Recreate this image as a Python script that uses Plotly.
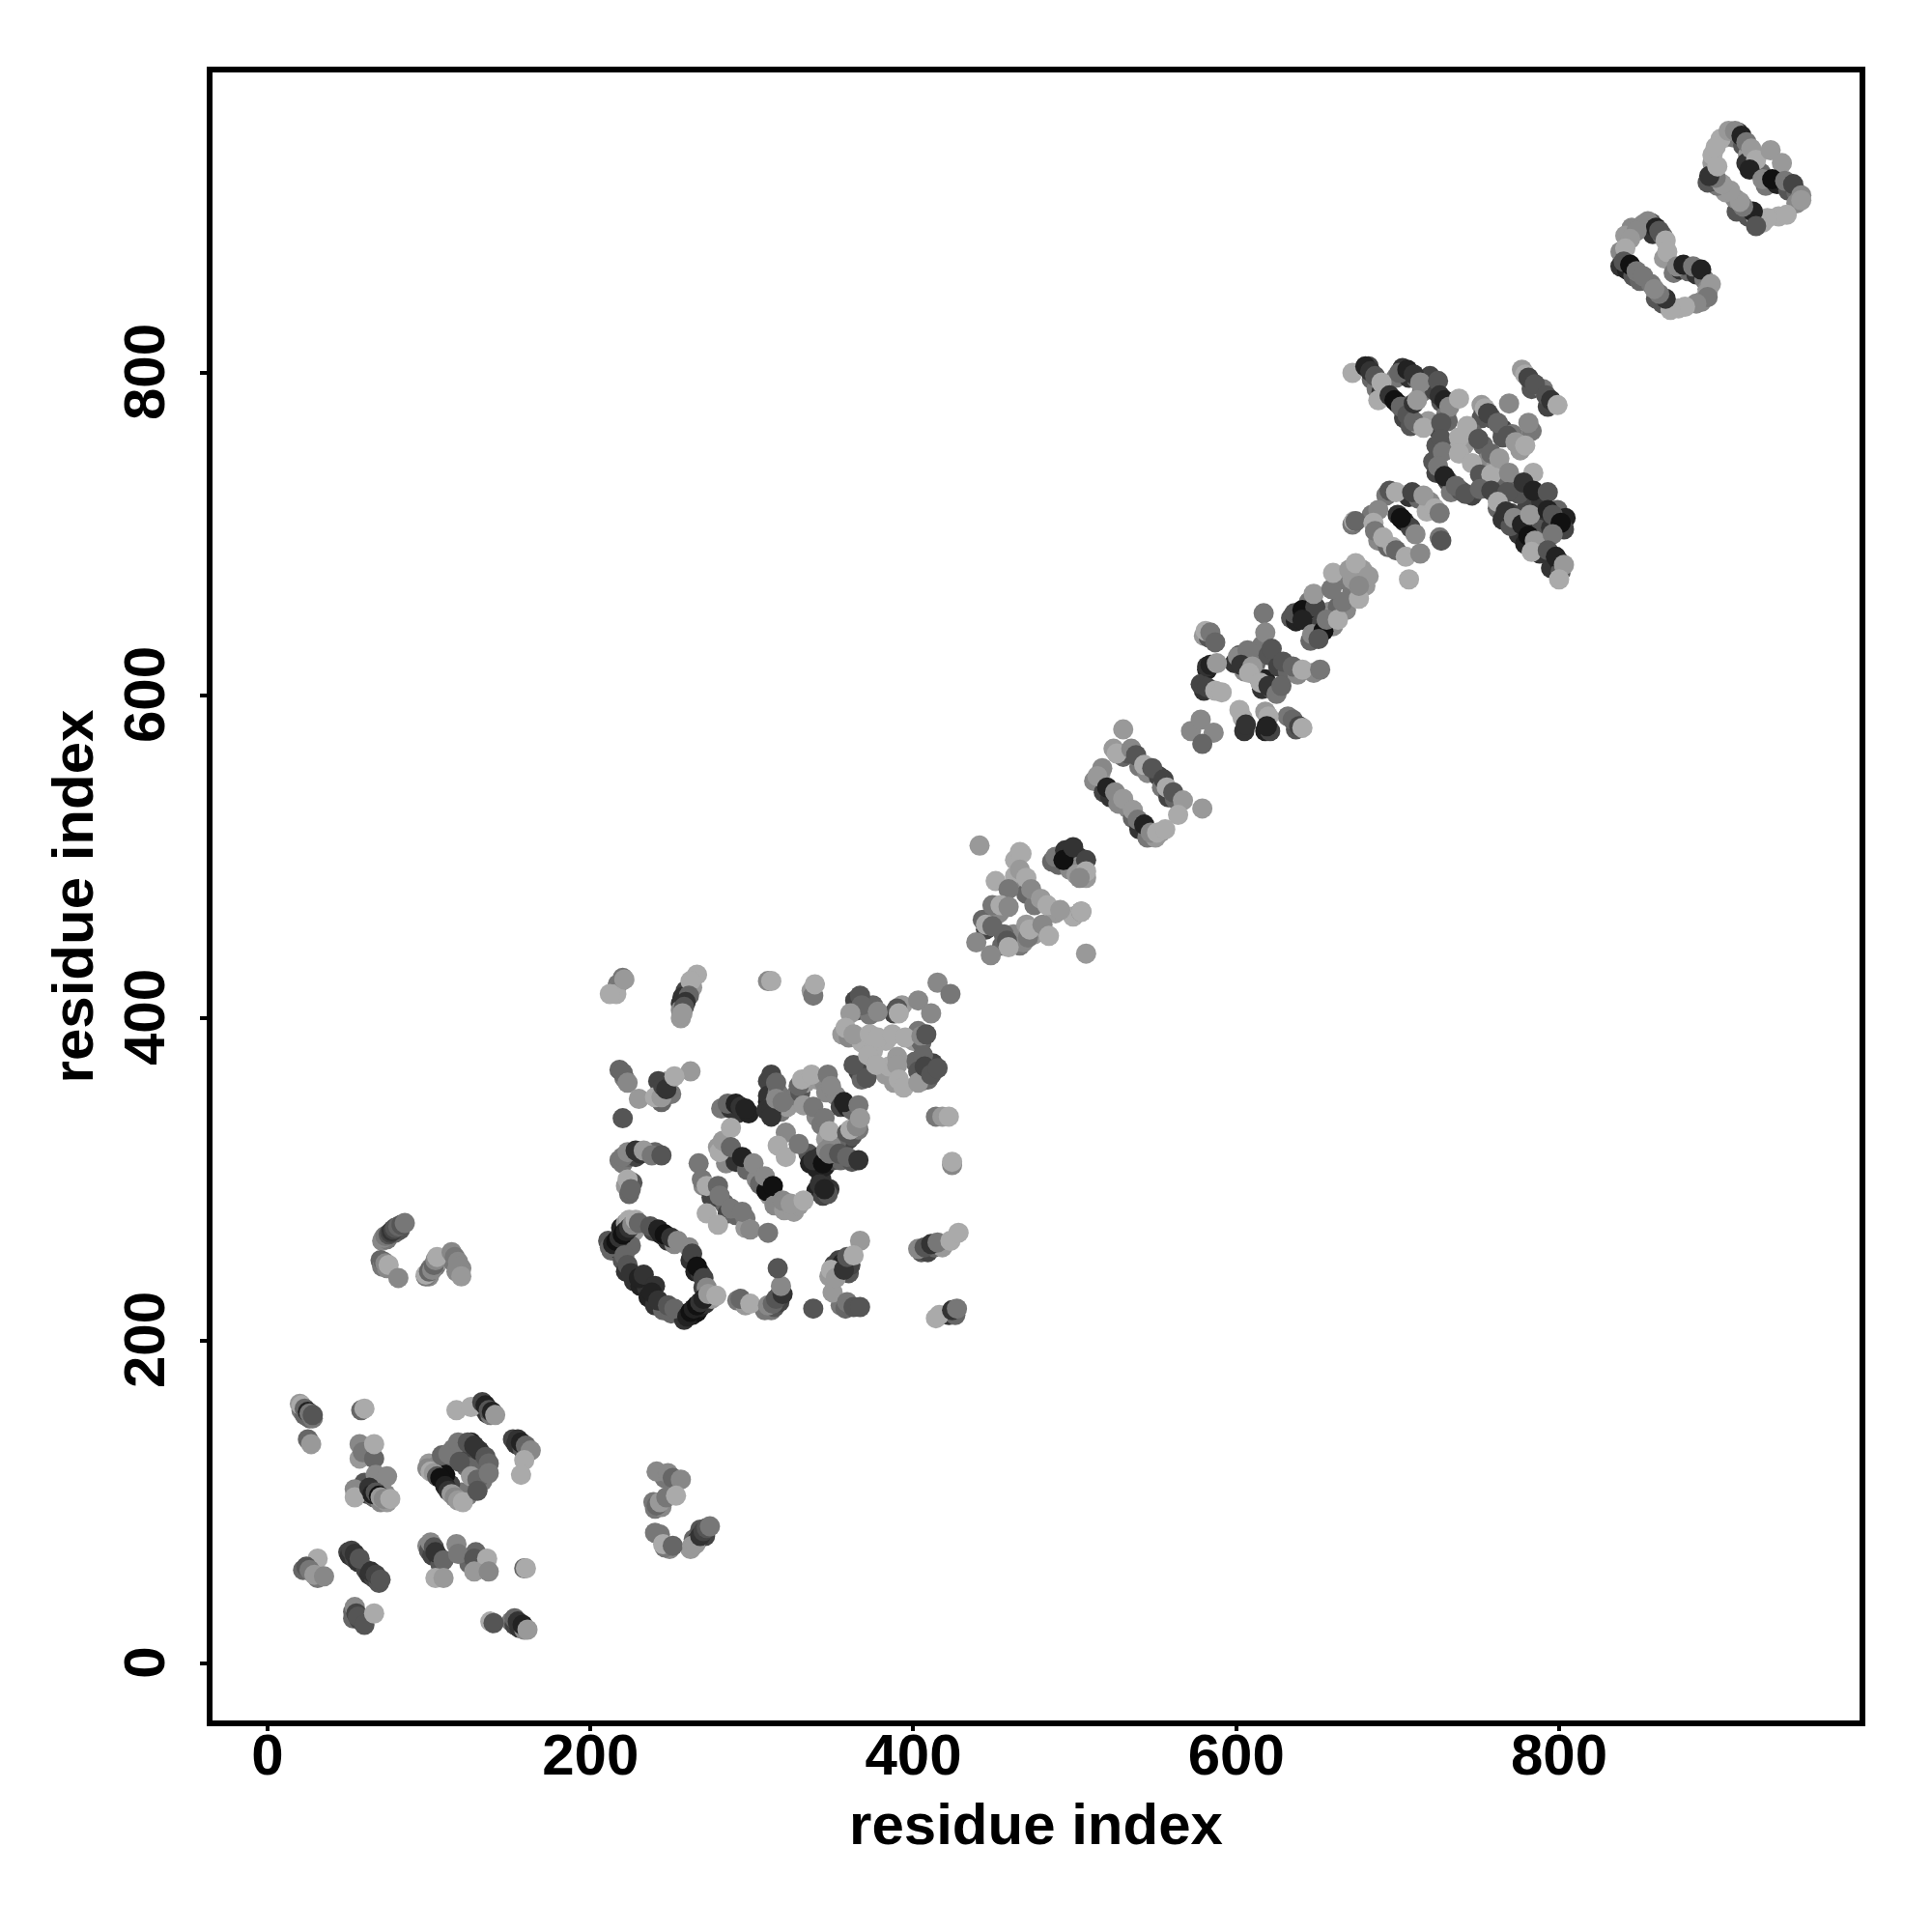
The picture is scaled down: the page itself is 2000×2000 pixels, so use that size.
import plotly.graph_objects as go

# (residue i, residue j, shade 1 = darkest .. 10 = lightest)
lower_a = [(71,262,8),(74,263,7),(79,267,6),(82,269,5),(70,250,6),(71,246,7),(74,245,8),(100,240,8),(101,245,7),(104,246,7),(107,250,9),(113,253,8),(115,249,7),(120,245,8),(117,243,8)]
lower_b = [(100,124,9),(104,122,8),(110,126,6),(115,133,7),(121,133,6),(126,132,4),(132,129,6),(134,122,6),(133,113,7),(128,110,6),(124,104,7),(120,106,7),(113,111,4),(108,118,3),(110,117,1),(126,137,2),(131,132,3),(123,122,6),
(131,160,4),(134,158,5),(136,155,3),(138,154,7),(152,139,4),(154,136,3),(158,133,5),(21,157,7),(23,154,6),(26,152,6),(28,152,7),(60,112,5),(62,105,4),(66,103,6),(70,100,8),(74,100,9),(73,105,8)]
lower_c = [(50,69,4),(51,67,3),(54,65,4),(56,63,3),(61,58,4),(63,55,3),(66,53,4),(69,50,5),(99,73,8),(100,70,5),(102,67,4),(106,66,3),(107,62,5),(125,62,6),(129,69,6),(53,32,6),(53,28,6),(57,27,4),(151,26,7),(153,24,4),(156,22,3),(159,21,8),(27,57,5),(31,53,7),(22,58,6),
(262,71,9),(264,77,6),(266,76,3),(268,83,5),(271,79,4),(243,80,7),(249,71,8),(246,72,7),(246,115,7),(239,100,7),(240,96,7),(244,97,8)]
lower_d = [(211,262,5),(213,256,6),(215,259,1),(217,257,2),(219,259,2),(221,262,1),(223,264,2),(225,266,2),(227,268,9),(219,270,2),(222,273,9),(224,275,10),
(225,259,6),(220,250,5),(222,243,3),(227,237,3),(231,234,2),(235,233,3),(236,227,2),(240,222,3),(245,219,6),(250,217,6),(258,213,3),(260,217,1),(263,216,2),(266,218,1),(268,221,2),(271,223,3),(275,226,9),
(261,258,8),(262,250,3),(265,243,2),(268,242,3),(270,233,4),(239,268,4),(244,266,2),(248,262,3),(252,260,8),
(291,225,7),(296,222,9),(308,219,7),(312,219,7),(314,221,5),(317,224,4),(317,228,3),(348,240,9),(351,247,4),(354,250,4),(356,248,2),(358,245,2),(360,242,5),(361,247,4),(355,222,7),(358,220,6),
(405,255,5),(409,255,4),(413,258,6),(418,258,9),(414,214,10),(422,216,3),(426,216,6)]
lower_e = [(217,421,7),(263,419,9),(259,417,4),(257,413,3),(256,409,3),(256,405,8),(256,400,9),(337,417,9),
(218,368,6),(221,363,7),(243,354,5),(244,348,6),(248,361,8),(242,361,4),(250,353,7),(218,312,7),(220,310,7),(224,314,6),(228,314,4),(231,316,3),(240,317,6),(222,296,9),(226,298,5),(224,291,6),
(270,296,8),(276,292,7),(283,285,6),(285,279,4),(290,278,6),(296,276,7),(296,270,9),(275,289,4),
(281,344,7),(287,344,3),(291,341,3),(298,341,2),(279,320,9),(284,310,8),(290,311,3),(297,306,6),(303,300,8),(305,297,6),(311,290,9),(309,293,1),(314,284,8),(320,281,9),(326,280,9),(329,284,9),(340,293,2),(344,290,4),(343,300,3),(348,294,3),
(310,361,4),(310,348,2),(310,352,3),(313,346,4),(309,343,3),(316,354,7),(318,342,7),(322,345,9),
(327,352,7),(330,354,5),(333,360,9),(340,362,9),(345,360,8),(346,354,8),(352,352,8),(355,345,4),(359,345,2),(362,343,6),(340,339,8),(343,334,7),(346,325,9),(356,326,7),(360,325,4),(362,327,5),(366,331,7),(352,322,6),
(335,316,5),(336,310,2),(340,307,2),(342,314,3),(345,308,2),(350,312,5),(355,312,6),(362,311,5),(349,321,8)]
lower_f = [(364,411,4),(366,405,5),(370,405,5),(373,402,7),(375,408,6),(388,403,4),(393,408,9),(356,390,9),(360,388,8),(368,385,10),(383,386,10),(400,386,9),(403,392,7),(405,385,6),
(401,373,6),(403,367,5),(405,361,7),(409,362,6),(412,372,4),(366,367,4),(368,362,6),(375,380,10),(383,365,9),(388,360,9),(385,370,10),
(502,500,3),(495,495,2),(490,495,6),(486,497,6),(497,492,8),(504,495,8),(507,487,9),(463,498,10),(463,488,10),(470,482,8),(475,475,8),(470,477,6),(475,470,7),(488,465,9),(499,463,10),
(466,445,7),(468,447,8),(475,452,9),(443,461,6),(445,455,4),(455,445,6),(462,452,8),(456,452,6),(453,465,8)]
lower_g = [(524,567,9),(530,562,6),(533,564,5),(540,556,7),(545,552,8),(552,550,4),(554,543,7),(558,537,4),(562,536,6),(516,552,9),(512,547,8),(518,540,4),(522,537,3),(527,533,8),(533,530,8),(536,524,6),(540,517,3),(545,512,7),(550,512,9),(553,515,9),
(580,637,9),(583,636,5),(599,620,3),(602,625,5),(605,615,8),(612,620,6),(613,612,8),(616,604,3),(618,610,2),(622,604,5),(582,616,2),(580,603,3),(578,607,4),(615,625,7),(616,631,7),(620,625,5),(626,618,4),(632,615,6),(638,613,8),(648,614,8),
(604,586,10),(605,578,3),(618,578,2),(621,578,4),(618,590,9),(632,587,7),(637,579,5)]
lower_h = [(634,648,5),(637,646,2),(639,650,1),(644,650,2),(645,658,7),(649,642,7),(651,640,2),(646,634,6),(653,645,4),(658,652,8),(660,643,8),(663,655,6),(668,653,8),(672,665,7),(665,672,7),(672,672,9),(678,678,9),(680,668,9),
(684,712,7),(688,696,8),(694,692,6),(697,692,10),(693,724,7),(707,723,3),(713,722,6),(720,720,8),(726,698,7),(700,712,3),(704,708,2),(708,704,4),(718,714,10),(672,706,7)]
lower_i = [(682,804,4),(684,796,6),(687,790,7),(690,788,3),(693,789,7),(700,781,3),(704,772,4),(708,767,5),(713,768,9),(719,770,9),(699,797,7),(703,803,3),(707,797,3),(712,796,6),(715,788,7),
(720,798,4),(723,789,4),(727,782,5),(730,774,7),(725,765,4),(731,770,6),(724,755,5),(730,754,6),(722,745,5),(724,738,4),(731,733,4),(733,726,7),(739,727,5),(746,724,4),
(752,780,9),(752,772,5),(758,772,5),(765,765,4),(765,760,5),(771,762,7),(776,752,9),(783,764,7),(746,763,6),(753,755,6),(735,755,10),(741,755,9),(755,745,8),(761,742,9),(767,733,6),
(762,716,6),(765,709,3),(770,713,4),(775,700,3),(770,705,5),(779,694,2),(780,716,4),(775,725,5),(789,720,3),(790,712,3),(787,703,5),(791,694,4),(788,688,3),(795,679,3),(800,683,2),(801,677,5),(795,704,3),(799,715,6),(804,710,2),(803,703,4),
(777,802,9),(783,790,5),(790,790,7),(793,779,4)]
lower_j = [(903,946,9),(908,946,7),(911,949,3),(914,941,5),(917,935,9),(921,927,3),(916,930,3),(925,924,6),(928,916,7),(935,917,2),(942,913,5),(947,912,6),(947,905,8),(936,897,10),(926,893,10),(917,897,5),(910,900,5),(909,908,8),(903,912,9),(898,916,7),(895,919,3),(892,918,5),(895,930,9),(895,935,10),(900,945,10),
(852,892,8),(857,893,5),(858,886,3),(864,885,6),(865,871,9),(845,890,8),(841,885,9),(838,875,8),(838,866,3),(842,864,2),(846,860,5),(850,857,6),(871,862,7),(875,864,3),(880,863,6),(885,861,3),(890,858,7),(892,852,8),(888,844,8),(874,840,10),(864,843,5),(860,846,5),(857,855,7),(892,850,9)]

domain_a = [(72,264,8),(73,265,7),(75,266,5),(76,267,4),(77,268,3),(78,269,4),(79,270,5),(81,271,6),(83,272,5),(85,273,7),
(72,249,6),(73,248,8),(75,247,10),(81,239,8),(98,240,7),(98,241,10),(100,243,6),(102,244,8),(103,247,6),(104,250,8),(105,252,10),
(114,255,8),(116,252,7),(118,249,8),(118,246,8),(120,240,9)]
domain_b = [(20,161,9),(21,160,10),(23,158,6),(25,156,2),(26,155,7),(28,154,5),(25,139,6),(27,136,9),(58,157,6),(60,158,10),
(57,136,8),(57,127,9),(59,131,7),(66,127,6),(66,136,10),(67,117,8),(74,116,8),(54,108,8),(54,103,10),(63,109,3),(65,105,2),(67,106,5),(69,104,1),(70,103,9),(72,102,8),(76,102,10),
(99,121,8),(101,119,10),(103,118,9),(105,116,5),(107,115,1),(110,110,2),(112,107,3),(114,105,9),(116,103,8),(118,101,9),(121,100,10),
(108,129,6),(112,130,7),(118,137,7),(124,137,5),(128,135,3),(119,125,5),(126,116,9),(130,114,6),(130,107,5),(135,128,5),(137,124,6),(137,118,7),
(117,157,10),(126,159,10),(133,162,4),(135,160,2),(137,157,5),(139,156,2),(141,154,9),
(155,139,3),(157,137,2),(160,135,6),(163,132,8),(159,126,10),(157,117,10)]
domain_c = [(31,65,10),(24,60,5),(26,58,7),(29,55,9),(35,54,8),(52,70,4),(54,68,3),(57,65,5),(64,57,3),(67,55,4),(70,52,5),
(101,75,8),(103,72,5),(104,69,3),(109,64,6),(117,74,8),(118,68,7),(104,53,10),(109,53,9),(128,65,5),(136,65,10),(128,57,9),(137,57,8),(159,59,6),(160,59,10),
(54,35,8),(55,31,4),(56,29,5),(60,24,5),(66,31,10),(138,26,10),(140,25,5),(153,28,6),(155,26,3),(158,24,2),(161,21,9),
(241,119,8),(248,118,8),(251,115,6),(256,114,8),(241,98,6),(243,100,9),(247,103,7),(253,104,10),(240,81,7),(245,74,10),(251,73,6),
(263,73,9),(265,74,9),(268,79,3),(270,82,4),(272,84,5),(274,85,7)]
domain_d = [(212,258,6),(214,260,2),(216,262,1),(218,264,3),(220,266,1),(222,268,2),(224,270,3),(226,272,8),(228,275,10),
(230,273,6),(237,271,5),(242,269,2),(246,266,1),(250,264,3),(254,262,8),(221,253,6),(223,247,5),(225,242,3),(230,239,2),(233,241,3),
(240,234,3),(238,230,2),(242,225,3),(248,222,5),(252,220,6),(263,254,4),(266,246,1),(270,239,4),(272,233,8),
(260,215,2),(262,218,1),(264,220,2),(266,222,1),(268,224,3),(270,226,2),(273,229,9),(278,228,10),
(293,226,6),(299,223,10),(310,222,8),(313,223,6),(315,226,5),(319,229,3),(318,234,8),(316,245,5),
(338,220,5),(350,230,9),(359,224,7),(363,221,5),(367,221,5),(367,262,9),(354,242,4),(349,244,10),(352,239,9),(357,244,3),(359,252,5),(363,253,10),
(403,257,8),(407,258,5),(411,260,3),(415,261,7),(423,262,10),(428,267,10),(416,216,10),(424,219,3),(427,220,7),
(424,309,8),(424,311,10),(414,339,7),(418,339,9),(422,339,10)]
domain_e = [(216,415,10),(212,415,10),(220,425,7),(221,424,9),(266,427,10),(262,423,10),(261,414,6),(259,410,3),(258,407,5),(257,403,9),
(310,423,8),(312,423,10),(338,414,7),(339,421,10),
(220,366,6),(223,360,8),(230,350,9),(220,338,5),(262,367,9),(240,351,10),(244,351,9),(245,358,4),(247,356,3),(252,364,10),
(220,314,7),(223,317,8),(228,318,3),(233,318,9),(238,315,7),(244,315,5),(223,300,10),(225,294,6),
(267,310,7),(269,300,7),(272,296,10),(279,296,6),(280,290,7),(287,282,7),(294,280,7),(299,269,8),(310,267,7),(272,279,10),(279,272,10),
(285,347,6),(290,347,2),(293,345,3),(296,344,2),(280,317,10),(282,324,9),(287,332,10),(287,320,6),(294,314,2),(301,310,8),(308,302,8),(313,296,1),(319,287,8),(324,285,9),(332,287,10),(342,297,3),(347,291,5),(345,294,2),
(312,365,4),(315,360,6),(312,343,3),(312,339,3),(315,350,8),(319,348,7),(321,329,8),(316,321,10),(321,314,10),(329,322,7),
(329,358,6),(331,362,10),(337,365,10),(347,365,7),(349,358,8),(332,346,9),(338,345,7),(345,338,7),(348,330,10),(357,348,2),(366,346,7),(359,329,5),(361,331,10),(365,333,8),(367,338,9),
(338,312,3),(344,310,1),(346,318,8),(348,316,7),(354,316,5),(359,314,6),(366,312,3)]
domain_f = [(367,414,5),(368,408,6),(361,403,9),(378,404,8),(390,406,5),(391,403,10),(358,394,10),(363,390,9),(373,390,10),(378,388,10),(387,390,10),(395,388,10),(405,389,8),(408,390,5),
(403,411,8),(411,403,8),(415,422,8),(423,415,7),(363,371,5),(371,363,5),(372,377,10),(377,371,10),(390,376,9),(390,371,9),(391,362,10),(394,357,10),(403,360,9),(406,377,6),(407,370,4),(411,365,5),(415,369,5),
(441,507,9),(466,503,10),(467,502,10),(466,492,9),(470,487,10),(473,480,8),(451,485,10),(459,480,7),(449,470,7),(454,470,10),(459,469,8),
(479,474,9),(483,470,10),(491,467,9),(504,466,7),(504,466,10),(445,458,10),(449,457,6),(458,448,5),(459,444,10),(439,447,8),(448,439,8),
(470,458,9),(471,450,7),(472,455,10),(480,458,8),(484,451,10),(507,440,9),
(488,500,7),(494,504,3),(493,498,1),(499,506,3),(507,498,4),(501,489,9),(507,491,10),(503,487,8)]
domain_g = [(530,579,9),(526,564,10),(535,567,8),(538,563,5),(543,557,10),(548,555,5),(555,548,4),(557,543,10),(561,540,5),(567,535,9),(564,526,10),(579,530,9),
(517,555,8),(514,550,9),(520,543,2),(525,540,8),(530,536,9),(536,529,9),(539,523,7),(543,520,2),(547,515,8),(551,515,10),(556,517,10),
(572,578,8),(578,585,8),(586,577,8),(579,570,6),(602,591,10),(606,582,3),(620,587,10),(619,581,2),(635,585,6),(639,581,4),(641,580,10),
(581,640,10),(584,639,7),(587,633,6),(582,618,3),(584,619,2),(588,620,9),(582,605,4),(587,603,10),(591,602,10),
(601,624,8),(607,628,7),(603,619,3),(610,618,9),(608,614,10),(617,651,7),(618,639,8),(622,629,5),(629,621,5),(635,618,6),(641,616,10),(652,616,7),
(615,608,10),(620,606,3),(625,601,7),(628,606,6)]
domain_h = [(636,651,5),(641,653,1),(649,655,4),(648,663,9),(641,647,2),(647,638,8),(654,640,1),(651,635,5),(656,647,7),(663,647,10),(666,658,7),(676,660,10),(659,666,7),(660,676,10),(670,678,9),(674,682,10),(682,674,9),(676,668,8),
(673,708,10),(674,708,6),(688,715,8),(685,707,10),(686,702,7),(691,698,10),(699,690,6),(705,686,10),(714,688,8),(707,672,10),(695,727,5),(699,726,10),(702,710,1),(711,700,8),(709,726,4),(716,724,9),(723,716,10),(726,713,7),(727,696,5)]
domain_i = [(672,800,10),(680,804,2),(683,801,3),(686,798,5),(690,794,10),(688,783,10),(695,786,3),(698,783,1),(702,779,6),(706,774,5),(710,770,6),(716,766,10),
(701,800,6),(706,802,2),(710,799,3),(714,794,8),(710,781,3),(712,783,9),(725,795,5),(726,786,3),(729,783,2),(732,779,8),(738,784,10),(727,769,5),(727,759,5),(728,751,7),(725,742,7),(729,736,2),(736,730,6),(742,725,5),
(754,778,10),(756,775,4),(762,769,6),(769,781,8),(781,769,8),(768,761,5),(773,757,9),(779,755,10),(738,760,10),(743,767,10),(750,759,5),(738,750,10),(746,744,10),(751,737,5),(758,737,10),(758,750,6),(763,747,9),(769,738,8),
(751,728,6),(758,727,4),(768,726,5),(784,738,10),(778,732,3),(784,727,2),(793,726,5),(762,720,10),(767,714,3),(772,710,8),(777,706,2),(782,712,9),(781,699,1),(785,696,9),(783,689,10),
(793,715,2),(796,712,5),(801,707,1),(796,700,7),(793,690,5),(798,686,2),(803,681,9),(800,672,10),(779,799,10),(781,797,4),(785,793,5),(792,786,5),(795,783,3),(799,780,10)]
domain_j = [(905,950,9),(909,950,8),(913,947,2),(916,943,7),(919,939,9),(922,932,10),(918,926,2),(931,938,9),(938,930,9),(926,920,8),(932,920,1),(940,919,7),(945,917,4),(950,910,8),(950,907,9),(941,898,10),(929,896,10),(922,896,10),(920,900,2),(914,903,7),(912,906,9),(906,913,9),(901,917,9),(897,921,7),(893,922,3),(898,928,10),(897,940,10),(922,891,5),
(855,894,8),(860,890,2),(862,888,5),(866,882,10),(867,875,10),(848,888,8),(844,883,9),(841,877,10),(840,869,5),(844,867,1),(848,863,7),(852,860,7),(873,866,8),(877,867,2),(883,866,7),(888,864,2),(894,855,9),(892,847,7),(885,843,8),(878,841,10),(869,839,10),(866,846,3),(862,849,7),(859,852,8)]

regions = [lower_a, lower_b, lower_c, lower_d, lower_e, lower_f, lower_g, lower_h, lower_i, lower_j,
           domain_a, domain_b, domain_c, domain_d, domain_e, domain_f, domain_g, domain_h, domain_i, domain_j]
tick_values = [0, 200, 400, 600, 800]
axis_label = "residue index"

fig = go.Figure()
for region in regions:
    fig.add_trace(go.Scatter(
        x=[p[0] for p in region], y=[p[1] for p in region], mode="markers",
        marker=dict(size=21, color=[p[2] for p in region], coloraxis="coloraxis", line=dict(width=0)),
        showlegend=False, hoverinfo="skip"))

font = dict(family="Liberation Sans", size=60, color="black", weight="bold")
def axis(rng, tick_len, label_shift, title_gap):
    return dict(range=rng, tickmode="array", tickvals=tick_values, showgrid=False, zeroline=False,
                showline=True, mirror=True, linecolor="black", linewidth=6,
                ticks="outside", ticklen=tick_len, tickwidth=4, tickcolor="black", tickfont=font,
                ticklabelstandoff=label_shift,
                title=dict(text="<b>%s</b>" % axis_label, font=font, standoff=title_gap))
fig.update_layout(
    width=2000, height=2000, paper_bgcolor="white", plot_bgcolor="white",
    margin=dict(l=212, r=83, t=67, b=227, autoexpand=False),
    xaxis=axis([-34.1, 986.1], 5, -27, 20), yaxis=axis([-35.3, 986.2], 7, 13, 2),
    coloraxis=dict(cmin=0, cmax=10, colorscale=[[0, "#000000"], [1, "#aaaaaa"]], showscale=False))
fig.update_yaxes(tickangle=-90, ticklabelshift=8)
fig.write_html("out.html")
